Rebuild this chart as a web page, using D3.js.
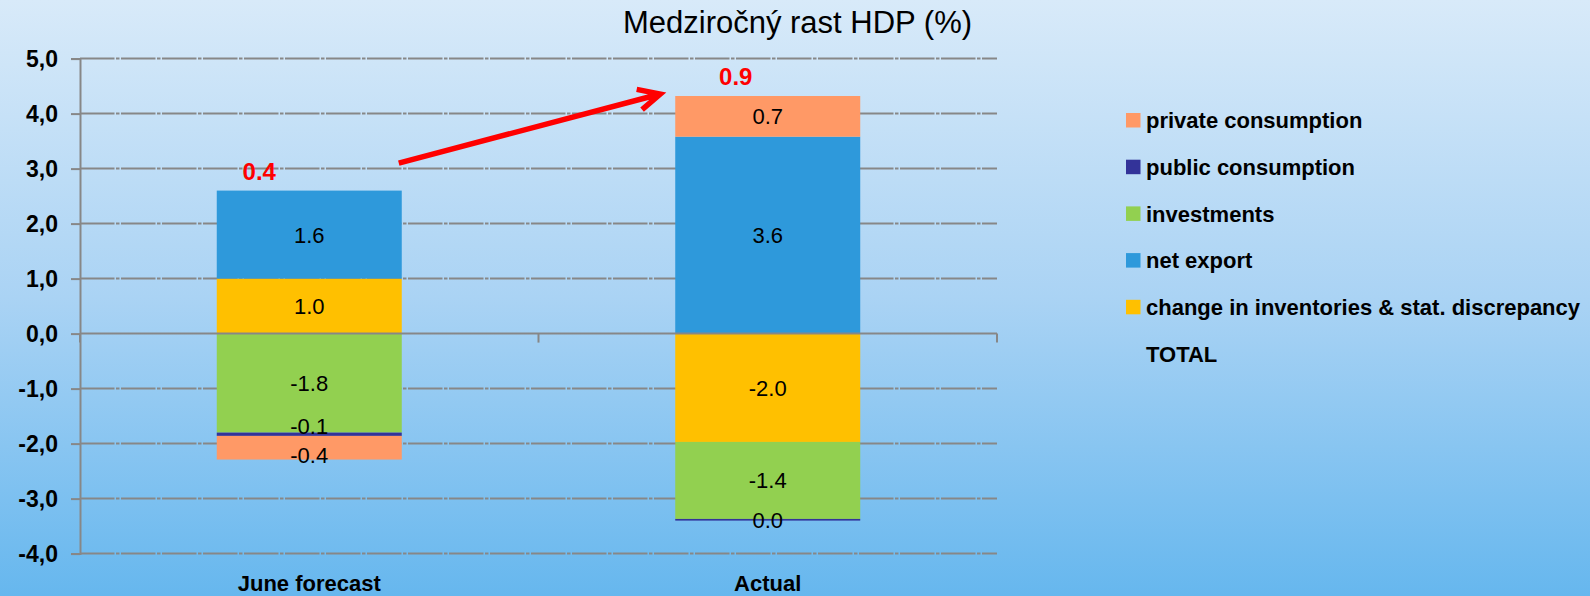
<!DOCTYPE html>
<html>
<head>
<meta charset="utf-8">
<script src="https://cdn.jsdelivr.net/npm/d3@7"></script>
<style>
  html, body { margin: 0; padding: 0; }
  body { width: 1590px; height: 596px; overflow: hidden; }
  text { font-family: "Liberation Sans", Arial, sans-serif; }
</style>
</head>
<body>
<svg id="chart" width="1590" height="596"></svg>
<script>
// ---------------- DATA ----------------
const title = "Medziročný rast HDP (%)";
const categories = ["June forecast", "Actual"];
const inventories = [1.0, -1.97];          // change in inventories & stat. discrepancy
const netExport = [1.6, 3.58];
const investments = [-1.8, -1.4];
const publicConsumption = [-0.06, -0.03];
const privateConsumption = [-0.43, 0.74];
const totals = [0.4, 0.9];
const yTicks = [-4, -3, -2, -1, 0, 1, 2, 3, 4, 5];
const seriesKeys = ["inventories", "netExport", "investments", "publicConsumption", "privateConsumption"];
const seriesLabels = {
  privateConsumption: "private consumption",
  publicConsumption: "public consumption",
  investments: "investments",
  netExport: "net export",
  inventories: "change in inventories & stat. discrepancy"
};
const legendOrder = ["privateConsumption", "publicConsumption", "investments", "netExport", "inventories"];
const totalLabel = "TOTAL";

// ---------------- STYLE / LAYOUT ----------------
const colors = {
  privateConsumption: "#ff9966",
  publicConsumption: "#333399",
  investments: "#92d050",
  netExport: "#2e99db",
  inventories: "#ffc000"
};
const plot = { left: 80, right: 997, top: 58.6, bottom: 553.6 };
const totalLabelShift = [-50, -32];

const svg = d3.select("#chart");

// background gradient
const defs = svg.append("defs");
const grad = defs.append("linearGradient").attr("id", "bg").attr("x1", 0).attr("y1", 0).attr("x2", 0).attr("y2", 1);
grad.append("stop").attr("offset", "0%").attr("stop-color", "#d8eaf9");
grad.append("stop").attr("offset", "50%").attr("stop-color", "#aad3f4");
grad.append("stop").attr("offset", "100%").attr("stop-color", "#66b7ee");
svg.append("rect").attr("width", 1590).attr("height", 596).attr("fill", "url(#bg)");

// data table
const rows = categories.map((c, i) => ({
  cat: c,
  inventories: inventories[i],
  netExport: netExport[i],
  investments: investments[i],
  publicConsumption: publicConsumption[i],
  privateConsumption: privateConsumption[i]
}));

const x = d3.scaleBand().domain(categories).range([plot.left, plot.right]).paddingInner(0.5965).paddingOuter(0.2983);
const y = d3.scaleLinear().domain([-4, 5]).range([plot.bottom, plot.top]);

// gridlines
svg.append("g").selectAll("line").data(yTicks.filter(t => t !== 0)).join("line")
  .attr("x1", plot.left).attr("x2", plot.right)
  .attr("y1", d => y(d)).attr("y2", d => y(d))
  .attr("stroke", "#878787").attr("stroke-width", 2)
  .attr("stroke-dasharray", "34.5,1.5,3.5,1.5");

// stacked bars
const stack = d3.stack().keys(seriesKeys).offset(d3.stackOffsetDiverging);
const stacked = stack(rows);

const fmt = v => { const s = v.toFixed(1); return s === "-0.0" ? "0.0" : s; };

const gBars = svg.append("g");
stacked.forEach(layer => {
  gBars.append("g").selectAll("rect").data(layer).join("rect")
    .attr("x", d => x(d.data.cat))
    .attr("width", x.bandwidth())
    .attr("y", d => y(Math.max(d[0], d[1])))
    .attr("height", d => Math.max(Math.abs(y(d[0]) - y(d[1])), 1.5))
    .attr("fill", colors[layer.key]);
});

// y axis
const yAxis = d3.axisLeft(y).tickValues(yTicks).tickSize(9).tickFormat(d => d.toFixed(1).replace(".", ","));
const gy = svg.append("g").attr("transform", `translate(${plot.left},0)`).call(yAxis);
gy.select(".domain").attr("stroke", "#878787").attr("stroke-width", 2);
gy.selectAll(".tick line").attr("stroke", "#878787").attr("stroke-width", 2);
gy.selectAll(".tick text")
  .attr("x", -22).attr("dy", "0.35em")
  .attr("font-size", 23).attr("font-weight", "bold").attr("fill", "#000")
  .style("font-family", "'Liberation Sans', Arial, sans-serif");

// x axis at zero
const zeroY = y(0);
svg.append("line").attr("x1", plot.left).attr("x2", plot.right).attr("y1", zeroY).attr("y2", zeroY)
  .attr("stroke", "#878787").attr("stroke-width", 2);
const bounds = [plot.left, (x(categories[0]) + x.bandwidth() + x(categories[1])) / 2, plot.right];
svg.append("g").selectAll("line").data(bounds).join("line")
  .attr("x1", d => d).attr("x2", d => d)
  .attr("y1", zeroY).attr("y2", zeroY + 9)
  .attr("stroke", "#878787").attr("stroke-width", 2);

// category labels at bottom
svg.append("g").selectAll("text").data(categories).join("text")
  .attr("x", d => x(d) + x.bandwidth() / 2)
  .attr("y", 591)
  .attr("text-anchor", "middle")
  .attr("font-size", 22).attr("font-weight", "bold")
  .text(d => d);

// value labels (centered in segment, spread apart when they would collide)
const labelItems = [];
categories.forEach((c, i) => {
  const list = stacked.map(layer => ({
    cat: c,
    key: layer.key,
    value: rows[i][layer.key],
    cy: y((layer[i][0] + layer[i][1]) / 2)
  })).sort((a, b) => a.cy - b.cy);
  const minGap = 29;
  for (let k = 1; k < list.length; k++) {
    const gap = list[k].cy - list[k - 1].cy;
    if (gap < minGap) {
      const push = (minGap - gap) / 2;
      list[k - 1].cy -= push;
      list[k].cy += push;
    }
  }
  labelItems.push(...list);
});
svg.append("g").selectAll("text").data(labelItems).join("text")
  .attr("x", d => x(d.cat) + x.bandwidth() / 2)
  .attr("y", d => d.cy)
  .attr("dy", "0.36em")
  .attr("text-anchor", "middle")
  .attr("font-size", 22)
  .attr("fill", "#000")
  .text(d => fmt(d.value));

// totals (red, above stack)
const tops = categories.map((c, i) => d3.max(stacked, l => l[i][1]));
svg.append("g").selectAll("text").data(totals).join("text")
  .attr("x", (d, i) => x(categories[i]) + x.bandwidth() / 2 + totalLabelShift[i])
  .attr("y", (d, i) => y(tops[i]) - 11)
  .attr("text-anchor", "middle")
  .attr("font-size", 24).attr("font-weight", "bold")
  .attr("fill", "#ff0000")
  .text(d => d.toFixed(1));

// arrow from forecast to actual
const x0 = x(categories[0]) + x.bandwidth() - 3;
const y0 = y(3.1);
const x1 = x(categories[1]) - 15;
const y1 = y(tops[1]) - 2;
const ang = Math.atan2(y0 - y1, x0 - x1);
const barbLen = 24, barbAng = 26 * Math.PI / 180;
const b1 = [x1 + barbLen * Math.cos(ang + barbAng), y1 + barbLen * Math.sin(ang + barbAng)];
const b2 = [x1 + barbLen * Math.cos(ang - barbAng), y1 + barbLen * Math.sin(ang - barbAng)];
svg.append("path")
  .attr("d", `M${x0},${y0}L${x1},${y1}M${b1[0]},${b1[1]}L${x1},${y1}L${b2[0]},${b2[1]}`)
  .attr("fill", "none").attr("stroke", "#ff0000").attr("stroke-width", 5.5)
  .attr("stroke-linejoin", "miter").attr("stroke-linecap", "butt");

// title
svg.append("text").attr("x", 797.5).attr("y", 33).attr("text-anchor", "middle")
  .attr("font-size", 31).attr("fill", "#000").text(title);

// legend
const legend = svg.append("g").attr("transform", "translate(1126,113)");
const items = legendOrder.map(k => ({ key: k, label: seriesLabels[k] })).concat([{ key: null, label: totalLabel }]);
const rowH = 46.7;
const li = legend.selectAll("g").data(items).join("g")
  .attr("transform", (d, i) => `translate(0,${i * rowH})`);
li.filter(d => d.key).append("rect").attr("width", 14.5).attr("height", 14.5)
  .attr("fill", d => colors[d.key]);
li.append("text").attr("x", 20).attr("y", 15.3)
  .attr("font-size", 22).attr("font-weight", "bold").attr("fill", "#000")
  .text(d => d.label);
</script>
</body>
</html>
